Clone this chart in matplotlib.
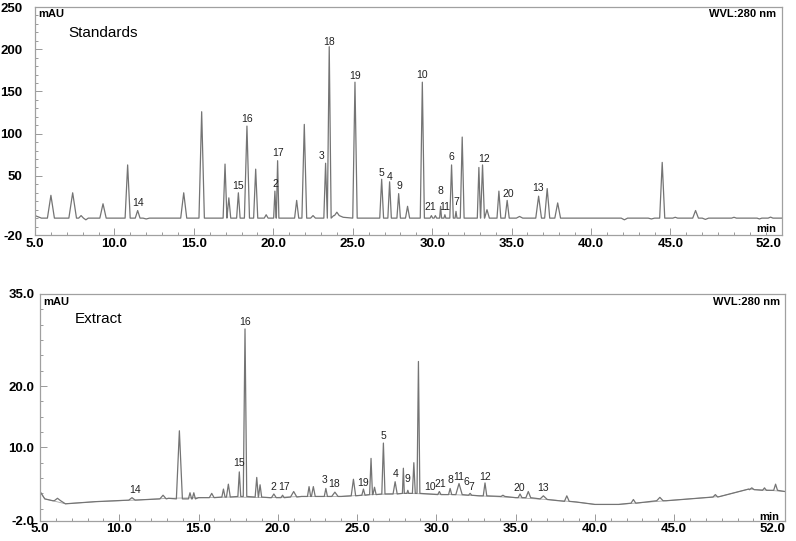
import numpy as np
import matplotlib
matplotlib.use("Agg")
import matplotlib.pyplot as plt
from matplotlib.ticker import MultipleLocator, FixedLocator

plt.rcParams["font.family"] = ["Liberation Sans", "DejaVu Sans"]

# ---- Standards (top) ----
std_base_t = [5.0, 5.4, 23.0, 23.8, 24.4, 52.0]
std_base_y = [3.0, 0.0, 0.0, 3.0, 1.0, 0.0]
std_pk_t = [6.00, 7.37, 7.90, 8.20, 9.28, 10.83, 11.46, 12.0, 14.36, 15.49,
            16.96, 17.20, 17.80, 18.34, 18.89, 19.55, 20.10, 20.27, 21.47, 21.95,
            22.50, 23.29, 23.52, 24.00, 25.14, 26.82, 27.32, 27.89, 28.45, 29.38,
            29.95, 30.20, 30.53, 30.80, 31.22, 31.50, 31.89, 32.94, 33.17, 33.45,
            34.20, 34.72, 35.50, 36.70, 37.24, 37.90, 42.10, 43.80, 44.48, 45.30,
            46.58, 47.20, 49.00, 50.60, 51.30]
std_pk_top = [27, 30, 3, -2, 17, 63, 9, -1, 30, 126,
              64, 24, 30, 109, 58, 4, 32, 68, 21, 111,
              3, 65, 203, 7, 161, 46, 43, 29, 14, 161,
              3, 3, 14, 4, 63, 8, 96, 60, 63, 10,
              32, 21, 2, 26, 35, 18, -2, -1, 66, 1,
              9, -1.5, 1, -1, 1.2]
std_pk_hw = [0.22, 0.24, 0.15, 0.15, 0.20, 0.16, 0.15, 0.2, 0.19, 0.17,
             0.12, 0.12, 0.11, 0.16, 0.13, 0.12, 0.08, 0.08, 0.13, 0.15,
             0.15, 0.11, 0.12, 0.15, 0.14, 0.12, 0.11, 0.11, 0.13, 0.13,
             0.08, 0.08, 0.06, 0.06, 0.11, 0.06, 0.12, 0.10, 0.12, 0.15,
             0.12, 0.13, 0.20, 0.18, 0.16, 0.18, 0.20, 0.20, 0.16, 0.15,
             0.18, 0.20, 0.15, 0.15, 0.15]
std_pk_base = [0] * 21 + [0, 0, 3] + [0] * 31

std_lab = ["14", "15", "16", "2", "17", "3", "18", "19", "5", "4", "9", "10",
           "21", "8", "11", "6", "7", "12", "20", "13"]
std_lab_t = [11.48, 17.78, 18.34, 20.10, 20.27, 23.06, 23.50, 25.14, 26.82, 27.32,
             27.91, 29.35, 29.86, 30.49, 30.80, 31.18, 31.54, 33.26, 34.77, 36.66]
std_lab_y = [17.9, 38, 117.4, 40.4, 77, 73.5, 208.6, 168, 53.4, 49,
             38, 169.5, 13.2, 32, 13.2, 72.7, 19.4, 70, 28.5, 35.6]

# ---- Extract (bottom) ----
ext_base_t = [5.0, 5.3, 5.8, 6.6, 8.5, 11.0, 13.1, 15.0, 17.0, 19.5, 21.5, 24.0,
              26.0, 28.0, 29.5, 31.0, 32.7, 35.0, 37.0, 38.8, 40.0, 41.5, 44.5,
              47.9, 49.7, 51.0, 52.0]
ext_base_y = [2.8, 1.6, 1.3, 0.8, 1.15, 1.4, 1.7, 1.8, 1.9, 1.8, 2.0, 2.0,
              2.3, 2.5, 2.4, 2.3, 2.1, 1.8, 1.5, 1.1, 0.7, 0.7, 1.3,
              2.0, 3.2, 3.0, 2.8]
ext_pk_t = [6.10, 10.80, 12.76, 13.79, 14.46, 14.70, 15.83, 16.57, 16.88, 17.57,
            17.93, 18.67, 18.88, 19.75, 20.30, 21.00, 21.97, 22.24, 23.03, 23.60,
            24.77, 25.40, 25.88, 26.10, 26.66, 27.40, 27.92, 28.20, 28.58, 28.87,
            30.19, 30.87, 31.43, 32.13, 33.07, 34.20, 35.28, 35.80, 36.75, 38.23,
            42.43, 44.10, 47.60, 49.90, 50.70, 51.40]
ext_pk_top = [1.7, 1.8, 2.2, 12.7, 2.6, 2.6, 2.5, 3.2, 4.0, 6.0,
              29.3, 5.1, 3.9, 2.4, 2.2, 2.8, 3.6, 3.6, 3.3, 2.7,
              4.8, 3.2, 8.2, 3.5, 10.7, 4.4, 6.6, 3.0, 7.5, 24.0,
              2.8, 3.3, 4.1, 2.5, 4.2, 2.2, 2.4, 2.8, 2.1, 2.1,
              1.5, 1.85, 2.3, 3.4, 3.4, 4.0]
ext_pk_hw = [0.20, 0.20, 0.20, 0.19, 0.10, 0.10, 0.15, 0.10, 0.12, 0.09,
             0.11, 0.10, 0.10, 0.15, 0.10, 0.20, 0.10, 0.12, 0.10, 0.20,
             0.14, 0.10, 0.09, 0.10, 0.10, 0.13, 0.06, 0.06, 0.09, 0.09,
             0.10, 0.10, 0.20, 0.10, 0.11, 0.12, 0.12, 0.15, 0.20, 0.15,
             0.15, 0.20, 0.15, 0.15, 0.12, 0.12]
ext_pk_base = [1.3, 1.4, 1.6, 1.6, 1.6, 1.6, 1.8, 1.9, 1.9, 2.0,
               2.0, 1.9, 1.9, 1.8, 1.8, 1.9, 2.0, 2.0, 2.0, 2.0,
               2.1, 2.2, 2.3, 2.3, 2.4, 2.4, 2.5, 2.5, 2.5, 2.5,
               2.3, 2.3, 2.3, 2.2, 2.1, 2.0, 1.8, 1.8, 1.6, 1.2,
               0.9, 1.3, 1.9, 3.1, 3.0, 3.0]

ext_lab = ["14", "15", "16", "2", "17", "3", "18", "19", "5", "4", "9", "10",
           "21", "8", "11", "6", "7", "12", "20", "13"]
ext_lab_t = [10.99, 17.57, 17.93, 19.72, 20.41, 22.94, 23.55, 25.36, 26.66, 27.40,
             28.15, 29.60, 30.28, 30.87, 31.39, 31.88, 32.19, 33.08, 35.24, 36.75]
ext_lab_y = [3.05, 7.4, 30.5, 3.6, 3.6, 4.7, 4.1, 4.2, 11.9, 5.7,
             4.8, 3.6, 4.0, 4.6, 5.2, 4.4, 3.5, 5.2, 3.3, 3.3]


def build_trace(base_t, base_y, pk_t, pk_top, pk_hw, pk_base):
    t = list(base_t)
    y = list(base_y)
    for c, top, hw, b in zip(pk_t, pk_top, pk_hw, pk_base):
        t += [c - hw, c, c + hw]
        y += [b, top, b]
    order = np.argsort(t, kind="stable")
    return np.array(t)[order], np.array(y)[order]


def style_axes(ax, ylim, yticks, ylabels, yminor, ypad, xpad):
    ax.set_xlim(5, 52)
    ax.set_ylim(*ylim)
    for s in ax.spines.values():
        s.set_color("#a0a0a0")
        s.set_linewidth(0.9)
    xt = [5, 10, 15, 20, 25, 30, 35, 40, 45, 52]
    ax.xaxis.set_major_locator(FixedLocator(xt))
    ax.set_xticklabels(["%.1f" % v for v in xt])
    ax.xaxis.set_minor_locator(MultipleLocator(1))
    ax.set_yticks(yticks)
    ax.set_yticklabels(ylabels)
    ax.yaxis.set_minor_locator(MultipleLocator(yminor))
    ax.tick_params(which="both", direction="in", color="#999999", width=0.7)
    ax.tick_params(which="major", length=5)
    ax.tick_params(which="minor", length=2.5)
    ax.tick_params(axis="y", which="major", pad=ypad, labelsize=9.5)
    ax.tick_params(axis="x", which="major", pad=xpad, labelsize=9.5)
    for lab in ax.get_xticklabels() + ax.get_yticklabels():
        lab.set_fontweight("bold")
    ax.get_xticklabels()[-1].set_horizontalalignment("right")


fig = plt.figure(figsize=(7.96, 5.41), dpi=100)

# top panel
ax1 = fig.add_axes([0.044, 0.5656, 0.938, 0.4214])
t1, y1 = build_trace(std_base_t, std_base_y, std_pk_t, std_pk_top, std_pk_hw, std_pk_base)
ax1.plot(t1, y1, color="#747474", lw=0.9)
style_axes(ax1, (-20, 250), [-20, 50, 100, 150, 200, 250],
           ["-20", "50", "100", "150", "200", "250"], 10, 9, 2.5)
for s, x, y in zip(std_lab, std_lab_t, std_lab_y):
    ax1.text(x, y, s, ha="center", va="center", fontsize=7.5, color="#222222")
ax1.text(5.19, 241.7, "mAU", ha="left", va="center", fontsize=8, fontweight="bold")
ax1.text(7.08, 219.2, "Standards", ha="left", va="center", fontsize=11)
ax1.text(51.68, 241.7, "WVL:280 nm", ha="right", va="center", fontsize=8, fontweight="bold")
ax1.text(51.68, -12.9, "min", ha="right", va="center", fontsize=8, fontweight="bold")

# bottom panel
ax2 = fig.add_axes([0.0503, 0.0370, 0.936, 0.4196])
t2, y2 = build_trace(ext_base_t, ext_base_y, ext_pk_t, ext_pk_top, ext_pk_hw, ext_pk_base)
ax2.plot(ext_base_t, ext_base_y, color="#a8a8a8", lw=0.6)
ax2.plot(t2, y2, color="#747474", lw=0.9)
style_axes(ax2, (-2, 35), [-2, 10, 20, 35],
           ["-2.0", "10.0", "20.0", "35.0"], 2.5, 4, 1.5)
for s, x, y in zip(ext_lab, ext_lab_t, ext_lab_y):
    ax2.text(x, y, s, ha="center", va="center", fontsize=7.5, color="#222222")
ax2.text(5.19, 33.75, "mAU", ha="left", va="center", fontsize=8, fontweight="bold")
ax2.text(7.21, 30.9, "Extract", ha="left", va="center", fontsize=11)
ax2.text(51.69, 33.75, "WVL:280 nm", ha="right", va="center", fontsize=8, fontweight="bold")
ax2.text(51.65, -1.3, "min", ha="right", va="center", fontsize=8, fontweight="bold")

fig.savefig("out.png", dpi=100)
